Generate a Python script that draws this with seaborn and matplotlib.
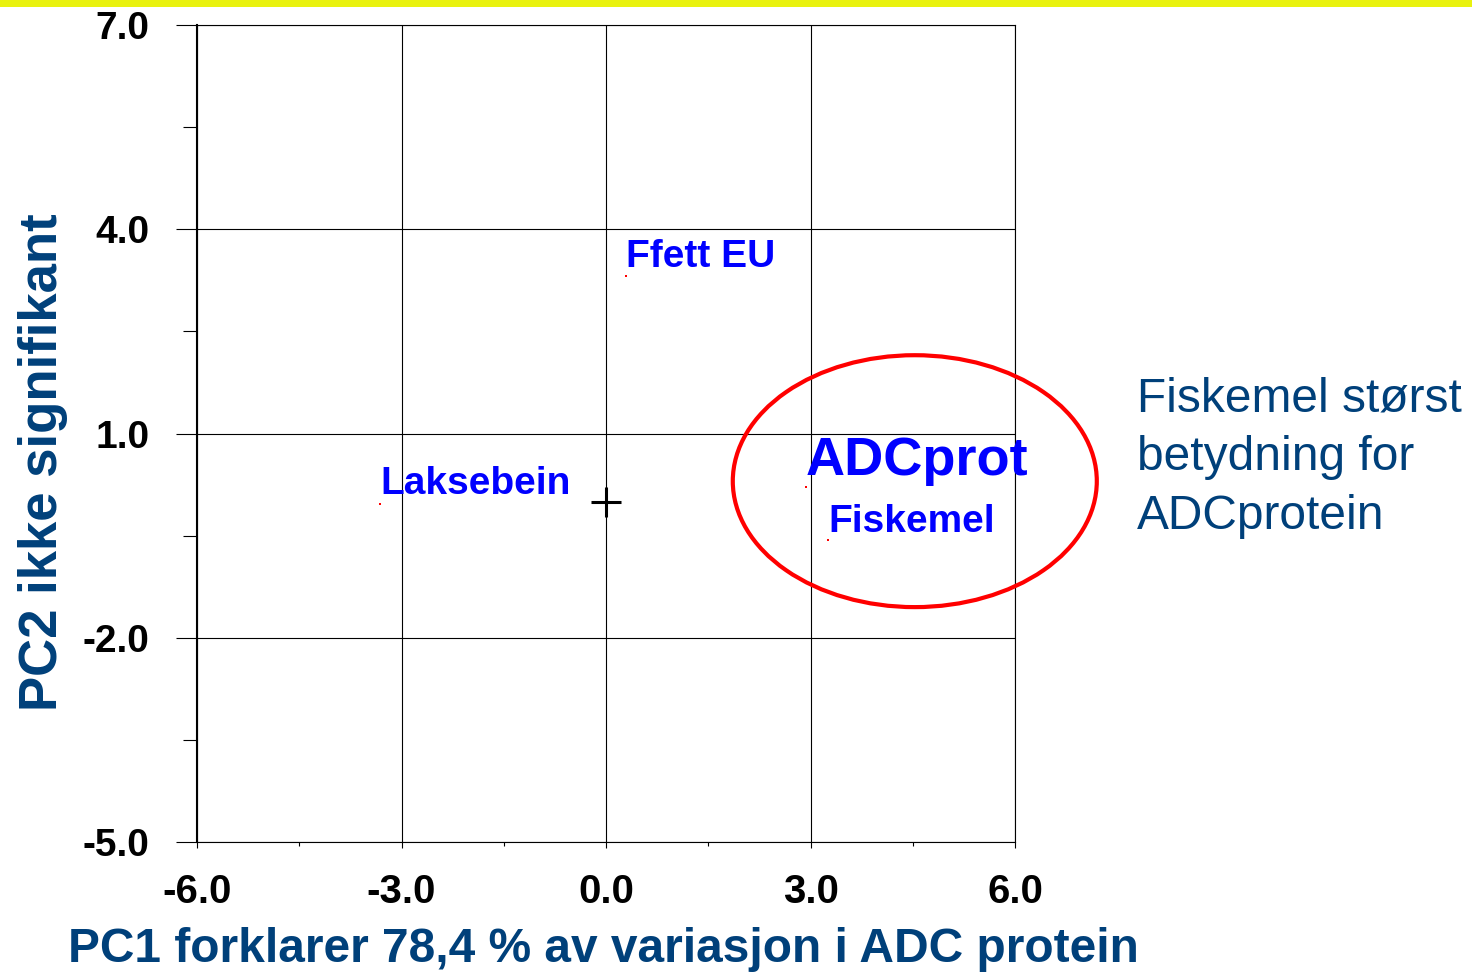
import matplotlib
matplotlib.use("Agg")
import numpy as np
import pandas as pd
import seaborn as sns
from matplotlib import pyplot as plt
from matplotlib.patches import Ellipse, Rectangle

# PCA scores
names = ["Ffett EU", "Laksebein", "ADCprot", "Fiskemel"]
pc1 = [0.29, -3.31, 2.93, 3.26]
pc2 = [3.31, -0.03, 0.22, -0.56]

x_ticks = [-6.0, -3.0, 0.0, 3.0, 6.0]
y_ticks = [-5.0, -2.0, 1.0, 4.0, 7.0]

x_label = "PC1 forklarer 78,4 % av variasjon i ADC protein"
y_label = "PC2 ikke signifikant"
note_lines = ["Fiskemel størst", "betydning for", "ADCprotein"]

# highlighted group (centre, width, height in score units)
circle_center = (4.53, 0.30)
circle_size = (5.34, 3.70)

W, H = 1472, 976
DARK = "#00407a"


def main():
    sns.set_theme(style="white")
    plt.rcParams["font.family"] = ["Liberation Sans", "DejaVu Sans"]

    df = pd.DataFrame({"pc1": pc1, "pc2": pc2, "name": names})

    fig = plt.figure(figsize=(W / 100, H / 100), dpi=100)
    fig.patch.set_facecolor("white")
    ax = fig.add_axes([197 / W, (H - 842) / H, (1015 - 197) / W, (842 - 25) / H])
    ax.set_facecolor("white")

    # tiny red score markers + origin cross
    sns.scatterplot(data=df, x="pc1", y="pc2", color="red", s=4, marker="s",
                    linewidth=0, ax=ax, zorder=4)
    sns.scatterplot(x=[0.0], y=[0.0], marker="+", s=470, color="black",
                    linewidth=2.2, ax=ax, zorder=4)

    ax.set_xlim(x_ticks[0], x_ticks[-1])
    ax.set_ylim(y_ticks[0], y_ticks[-1])
    ax.set_xticks(x_ticks)
    ax.set_yticks(y_ticks)
    ax.set_xticks(np.array(x_ticks[:-1]) + 1.5, minor=True)
    ax.set_yticks(np.array(y_ticks[:-1]) + 1.5, minor=True)
    ax.set_xticklabels([f"{v:.1f}" for v in x_ticks])
    ax.set_yticklabels([f"{v:.1f}" for v in y_ticks])
    ax.set_xlabel("")
    ax.set_ylabel("")

    ax.grid(True, which="major", color="black", linewidth=0.8)
    ax.tick_params(axis="y", which="major", left=True, length=15, width=0.8,
                   color="black", pad=19, labelsize=28)
    ax.tick_params(axis="y", which="minor", left=True, length=10, width=0.8,
                   color="black")
    ax.tick_params(axis="x", which="major", bottom=True, length=4, width=0.8,
                   color="black", pad=18, labelsize=29)
    ax.tick_params(axis="x", which="minor", bottom=True, length=3, width=0.8,
                   color="black")
    for lab in ax.get_xticklabels() + ax.get_yticklabels():
        lab.set_fontweight("bold")
        lab.set_color("black")

    for side, sp in ax.spines.items():
        sp.set_color("black")
        sp.set_linewidth(1.5 if side == "left" else 0.8)

    # point labels
    label_size = {"Ffett EU": 28, "Laksebein": 28, "ADCprot": 39, "Fiskemel": 28}
    label_offset = {"Ffett EU": (0, 9), "Laksebein": (0, 10),
                    "ADCprot": (0, 12), "Fiskemel": (0, 8)}
    for n, x, y in zip(names, pc1, pc2):
        ax.annotate(n, (x, y), xytext=label_offset[n], textcoords="offset pixels",
                    ha="left", va="baseline", color="blue", fontweight="bold",
                    fontsize=label_size[n], zorder=5)

    ax.add_patch(Ellipse(circle_center, circle_size[0], circle_size[1],
                         fill=False, edgecolor="red", linewidth=3, clip_on=False,
                         zorder=6))

    # axis titles placed like on the slide
    fig.text(603 / W, (H - 962) / H, x_label, ha="center", va="baseline",
             fontsize=34.5, fontweight="bold", color=DARK)
    fig.text(43 / W, (H - 462) / H, y_label, ha="center", va="center",
             rotation=90, fontsize=38, fontweight="bold", color=DARK)

    for line, base in zip(note_lines, [412, 470, 529]):
        fig.text(1137 / W, (H - base) / H, line, ha="left", va="baseline",
                 fontsize=34.5, color=DARK)

    # yellow slide band along the top
    fig.add_artist(Rectangle((0, 1 - 7 / H), 1, 7 / H, transform=fig.transFigure,
                             facecolor="#e9f20e", edgecolor="none"))

    fig.savefig("out.png", dpi=100)


if __name__ == "__main__":
    main()
